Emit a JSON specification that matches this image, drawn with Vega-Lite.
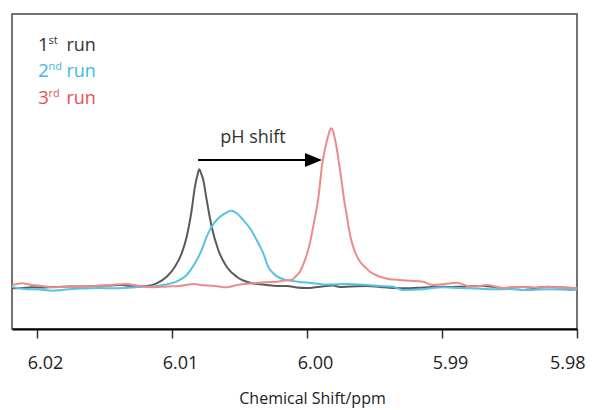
{
  "$schema": "https://vega.github.io/schema/vega-lite/v6.json",
  "width": 565,
  "height": 315,
  "padding": {"left": 12, "top": 14, "right": 0, "bottom": 2},
  "background": "white",
  "config": {
    "view": {"stroke": "#444", "strokeWidth": 1.5},
    "font": "Open Sans"
  },
  "layer": [
    {
      "data": {"values": [
        {"run":"1st","ppm":6.02185,"intensity":-0.19},{"run":"1st","ppm":6.02111,"intensity":0},{"run":"1st","ppm":6.02037,"intensity":0.44},{"run":"1st","ppm":6.01941,"intensity":0.31},{"run":"1st","ppm":6.01815,"intensity":0.81},{"run":"1st","ppm":6.01681,"intensity":0.94},{"run":"1st","ppm":6.0157,"intensity":1.25},{"run":"1st","ppm":6.01459,"intensity":1.56},{"run":"1st","ppm":6.0137,"intensity":1.88},{"run":"1st","ppm":6.01274,"intensity":0.81},{"run":"1st","ppm":6.01187,"intensity":1.25},{"run":"1st","ppm":6.01113,"intensity":2.94},{"run":"1st","ppm":6.01039,"intensity":7.06},{"run":"1st","ppm":6.00978,"intensity":13.31},{"run":"1st","ppm":6.00928,"intensity":21.69},{"run":"1st","ppm":6.00891,"intensity":32.06},{"run":"1st","ppm":6.00854,"intensity":48.75},{"run":"1st","ppm":6.0083,"intensity":63.31},{"run":"1st","ppm":6.00811,"intensity":70.63},{"run":"1st","ppm":6.00798,"intensity":74.19},{"run":"1st","ppm":6.00785,"intensity":71.88},{"run":"1st","ppm":6.00768,"intensity":67.5},{"run":"1st","ppm":6.00743,"intensity":55},{"run":"1st","ppm":6.00706,"intensity":38.31},{"run":"1st","ppm":6.00657,"intensity":23.75},{"run":"1st","ppm":6.00595,"intensity":13.31},{"run":"1st","ppm":6.00521,"intensity":7.06},{"run":"1st","ppm":6.00422,"intensity":3.31},{"run":"1st","ppm":6.00298,"intensity":1.88},{"run":"1st","ppm":6.00222,"intensity":1.25},{"run":"1st","ppm":6.00148,"intensity":1.25},{"run":"1st","ppm":6.00074,"intensity":0.31},{"run":"1st","ppm":6.0,"intensity":0},{"run":"1st","ppm":5.99926,"intensity":0.63},{"run":"1st","ppm":5.99852,"intensity":1.25},{"run":"1st","ppm":5.99807,"intensity":1.56},{"run":"1st","ppm":5.99756,"intensity":0.63},{"run":"1st","ppm":5.99681,"intensity":0.94},{"run":"1st","ppm":5.99556,"intensity":1.25},{"run":"1st","ppm":5.99459,"intensity":0.63},{"run":"1st","ppm":5.99363,"intensity":0},{"run":"1st","ppm":5.99237,"intensity":-0.19},{"run":"1st","ppm":5.99141,"intensity":0.31},{"run":"1st","ppm":5.99037,"intensity":0.81},{"run":"1st","ppm":5.98941,"intensity":0.63},{"run":"1st","ppm":5.98867,"intensity":0.81},{"run":"1st","ppm":5.98696,"intensity":1.25},{"run":"1st","ppm":5.98607,"intensity":0.63},{"run":"1st","ppm":5.98548,"intensity":0},{"run":"1st","ppm":5.984,"intensity":0.63},{"run":"1st","ppm":5.98311,"intensity":0},{"run":"1st","ppm":5.98222,"intensity":0.81},{"run":"1st","ppm":5.98126,"intensity":0.31},{"run":"1st","ppm":5.9803,"intensity":0},{"run":"1st","ppm":5.98,"intensity":0},
        {"run":"2nd","ppm":6.02185,"intensity":0.63},{"run":"2nd","ppm":6.02089,"intensity":-0.63},{"run":"2nd","ppm":6.01978,"intensity":-0.94},{"run":"2nd","ppm":6.01889,"intensity":-1.69},{"run":"2nd","ppm":6.01815,"intensity":-1.25},{"run":"2nd","ppm":6.01741,"intensity":-0.63},{"run":"2nd","ppm":6.01644,"intensity":-0.31},{"run":"2nd","ppm":6.01541,"intensity":0},{"run":"2nd","ppm":6.01444,"intensity":-0.19},{"run":"2nd","ppm":6.01348,"intensity":0},{"run":"2nd","ppm":6.01252,"intensity":0.63},{"run":"2nd","ppm":6.01163,"intensity":0.81},{"run":"2nd","ppm":6.01064,"intensity":1.88},{"run":"2nd","ppm":6.00967,"intensity":3.94},{"run":"2nd","ppm":6.00891,"intensity":8.13},{"run":"2nd","ppm":6.0083,"intensity":15.44},{"run":"2nd","ppm":6.0078,"intensity":23.75},{"run":"2nd","ppm":6.00743,"intensity":32.06},{"run":"2nd","ppm":6.00706,"intensity":38.31},{"run":"2nd","ppm":6.00657,"intensity":43.56},{"run":"2nd","ppm":6.00607,"intensity":46.69},{"run":"2nd","ppm":6.00558,"intensity":48.31},{"run":"2nd","ppm":6.00521,"intensity":46.69},{"run":"2nd","ppm":6.00472,"intensity":42.5},{"run":"2nd","ppm":6.00422,"intensity":37.31},{"run":"2nd","ppm":6.00373,"intensity":30},{"run":"2nd","ppm":6.00324,"intensity":21.69},{"run":"2nd","ppm":6.00287,"intensity":13.31},{"run":"2nd","ppm":6.00252,"intensity":9.38},{"run":"2nd","ppm":6.002,"intensity":6.25},{"run":"2nd","ppm":6.00148,"intensity":5},{"run":"2nd","ppm":6.00052,"intensity":3.75},{"run":"2nd","ppm":6.0,"intensity":3.44},{"run":"2nd","ppm":5.99904,"intensity":2.5},{"run":"2nd","ppm":5.99852,"intensity":2.19},{"run":"2nd","ppm":5.99704,"intensity":2.5},{"run":"2nd","ppm":5.99556,"intensity":1.88},{"run":"2nd","ppm":5.99459,"intensity":1.25},{"run":"2nd","ppm":5.99363,"intensity":0.81},{"run":"2nd","ppm":5.99289,"intensity":-1.25},{"run":"2nd","ppm":5.99141,"intensity":-0.81},{"run":"2nd","ppm":5.98993,"intensity":0.44},{"run":"2nd","ppm":5.98867,"intensity":0},{"run":"2nd","ppm":5.98793,"intensity":-0.19},{"run":"2nd","ppm":5.98593,"intensity":-0.81},{"run":"2nd","ppm":5.98496,"intensity":-0.63},{"run":"2nd","ppm":5.984,"intensity":-1.25},{"run":"2nd","ppm":5.98222,"intensity":-0.81},{"run":"2nd","ppm":5.98126,"intensity":-0.94},{"run":"2nd","ppm":5.9803,"intensity":-1.25},{"run":"2nd","ppm":5.98,"intensity":-0.94},
        {"run":"3rd","ppm":6.02185,"intensity":1.88},{"run":"3rd","ppm":6.02111,"intensity":2.94},{"run":"3rd","ppm":6.02037,"intensity":1.88},{"run":"3rd","ppm":6.01963,"intensity":1.25},{"run":"3rd","ppm":6.01889,"intensity":0.44},{"run":"3rd","ppm":6.01793,"intensity":0.63},{"run":"3rd","ppm":6.01689,"intensity":0.81},{"run":"3rd","ppm":6.0157,"intensity":1.25},{"run":"3rd","ppm":6.01444,"intensity":1.88},{"run":"3rd","ppm":6.01348,"intensity":2.5},{"run":"3rd","ppm":6.01244,"intensity":1.25},{"run":"3rd","ppm":6.01126,"intensity":0.44},{"run":"3rd","ppm":6.01037,"intensity":0.94},{"run":"3rd","ppm":6.00948,"intensity":1.25},{"run":"3rd","ppm":6.0083,"intensity":2.5},{"run":"3rd","ppm":6.00793,"intensity":1.88},{"run":"3rd","ppm":6.00696,"intensity":1.44},{"run":"3rd","ppm":6.00593,"intensity":0.44},{"run":"3rd","ppm":6.00533,"intensity":1.56},{"run":"3rd","ppm":6.00474,"intensity":2.5},{"run":"3rd","ppm":6.00422,"intensity":2.81},{"run":"3rd","ppm":6.00348,"intensity":3.31},{"run":"3rd","ppm":6.00274,"intensity":3.75},{"run":"3rd","ppm":6.00222,"intensity":3.94},{"run":"3rd","ppm":6.00163,"intensity":4.69},{"run":"3rd","ppm":6.00113,"intensity":5},{"run":"3rd","ppm":6.00081,"intensity":7.5},{"run":"3rd","ppm":6.00052,"intensity":10.19},{"run":"3rd","ppm":6.00026,"intensity":15},{"run":"3rd","ppm":6.00002,"intensity":20.63},{"run":"3rd","ppm":5.99978,"intensity":28.13},{"run":"3rd","ppm":5.99956,"intensity":37.5},{"run":"3rd","ppm":5.99933,"intensity":47.5},{"run":"3rd","ppm":5.99916,"intensity":56.25},{"run":"3rd","ppm":5.99904,"intensity":65},{"run":"3rd","ppm":5.99891,"intensity":75},{"run":"3rd","ppm":5.99874,"intensity":83.75},{"run":"3rd","ppm":5.99854,"intensity":91.44},{"run":"3rd","ppm":5.99837,"intensity":96.88},{"run":"3rd","ppm":5.99822,"intensity":99.81},{"run":"3rd","ppm":5.99807,"intensity":98.13},{"run":"3rd","ppm":5.99793,"intensity":93.13},{"run":"3rd","ppm":5.9978,"intensity":87.5},{"run":"3rd","ppm":5.99763,"intensity":78.13},{"run":"3rd","ppm":5.99743,"intensity":66.44},{"run":"3rd","ppm":5.99726,"intensity":55.63},{"run":"3rd","ppm":5.99706,"intensity":45.63},{"run":"3rd","ppm":5.99689,"intensity":36.88},{"run":"3rd","ppm":5.99669,"intensity":28.94},{"run":"3rd","ppm":5.99644,"intensity":22.5},{"run":"3rd","ppm":5.99607,"intensity":16.44},{"run":"3rd","ppm":5.9957,"intensity":13.13},{"run":"3rd","ppm":5.99533,"intensity":10.19},{"run":"3rd","ppm":5.99496,"intensity":8.44},{"run":"3rd","ppm":5.99459,"intensity":7.06},{"run":"3rd","ppm":5.99385,"intensity":5.44},{"run":"3rd","ppm":5.99311,"intensity":5},{"run":"3rd","ppm":5.99237,"intensity":4.56},{"run":"3rd","ppm":5.99141,"intensity":3.94},{"run":"3rd","ppm":5.99067,"intensity":1.88},{"run":"3rd","ppm":5.98978,"intensity":2.5},{"run":"3rd","ppm":5.98889,"intensity":3.31},{"run":"3rd","ppm":5.98793,"intensity":0.81},{"run":"3rd","ppm":5.98719,"intensity":1.25},{"run":"3rd","ppm":5.98667,"intensity":1.88},{"run":"3rd","ppm":5.98548,"intensity":0},{"run":"3rd","ppm":5.98474,"intensity":0.63},{"run":"3rd","ppm":5.984,"intensity":0.63},{"run":"3rd","ppm":5.98311,"intensity":0.31},{"run":"3rd","ppm":5.98222,"intensity":0.63},{"run":"3rd","ppm":5.98126,"intensity":0.31},{"run":"3rd","ppm":5.9803,"intensity":0},{"run":"3rd","ppm":5.98,"intensity":0}
      ]},
      "mark": {"type": "line", "strokeWidth": 2, "clip": true, "interpolate": "monotone"},
      "encoding": {
        "x": {
          "field": "ppm", "type": "quantitative",
          "scale": {"domain": [6.02185, 5.98], "nice": false, "zero": false},
          "axis": {
            "values": [6.02, 6.01, 6.0, 5.99, 5.98],
            "format": ".2f",
            "grid": false,
            "domainColor": "#000", "domainWidth": 2,
            "tickColor": "#333", "tickWidth": 1.5, "tickSize": 9,
            "labelFont": "Open Sans", "labelFontSize": 18, "labelColor": "#222",
            "labelPadding": 16, "labelOffset": 8, "labelOverlap": false,
            "title": "Chemical Shift/ppm",
            "titleFont": "Open Sans", "titleFontSize": 16, "titleFontWeight": "normal",
            "titleColor": "#222", "titlePadding": 18, "titleX": 300, "titleAlign": "center"
          }
        },
        "y": {
          "field": "intensity", "type": "quantitative",
          "scale": {"domain": [-25.63, 171.25], "nice": false, "zero": false},
          "axis": null
        },
        "color": {
          "field": "run", "type": "nominal",
          "scale": {"domain": ["1st", "2nd", "3rd"], "range": ["#5a5a5a", "#55c3e8", "#f08a8a"]},
          "legend": null
        }
      }
    },
    {
      "data": {"values": [{"from": 6.00807, "to": 5.99905, "level": 80}]},
      "mark": {"type": "rule", "strokeWidth": 2, "color": "#000"},
      "encoding": {
        "x": {"field": "from", "type": "quantitative"},
        "x2": {"field": "to"},
        "y": {"field": "level", "type": "quantitative"}
      }
    },
    {
      "data": {"values": [{"tip": 5.99952, "level": 80}]},
      "mark": {"type": "point", "filled": true, "color": "#000", "opacity": 1, "size": 289, "shape": "M-1,-0.82L1,0L-1,0.82Z"},
      "encoding": {
        "x": {"field": "tip", "type": "quantitative"},
        "y": {"field": "level", "type": "quantitative"}
      }
    },
    {
      "data": {"values": [{"label": "pH shift", "ppm": 6.004, "level": 90.6}]},
      "mark": {"type": "text", "font": "Open Sans", "fontSize": 18, "color": "#333", "align": "center", "baseline": "alphabetic"},
      "encoding": {
        "x": {"field": "ppm", "type": "quantitative"},
        "y": {"field": "level", "type": "quantitative"},
        "text": {"field": "label"}
      }
    },
    {
      "data": {"values": [
        {"num": "1", "sup": "st", "word": "run", "ppm": 6.01993, "level": 148.3, "run": "1st"},
        {"num": "2", "sup": "nd", "word": "run", "ppm": 6.01993, "level": 131.9, "run": "2nd"},
        {"num": "3", "sup": "rd", "word": "run", "ppm": 6.01993, "level": 115.0, "run": "3rd"}
      ]},
      "encoding": {
        "x": {"field": "ppm", "type": "quantitative"},
        "y": {"field": "level", "type": "quantitative"},
        "fill": {"field": "run", "type": "nominal", "scale": {"domain": ["1st", "2nd", "3rd"], "range": ["#333333", "#3cb9e6", "#e65050"]}, "legend": null}
      },
      "layer": [
        {
          "mark": {"type": "text", "font": "Open Sans", "fontSize": 19, "align": "left", "baseline": "alphabetic"},
          "encoding": {"text": {"field": "num"}}
        },
        {
          "mark": {"type": "text", "font": "Open Sans", "fontSize": 11, "align": "left", "baseline": "alphabetic", "dx": 10.5, "dy": -7},
          "encoding": {"text": {"field": "sup"}}
        },
        {
          "mark": {"type": "text", "font": "Open Sans", "fontSize": 18, "align": "left", "baseline": "alphabetic", "dx": 28.5},
          "encoding": {"text": {"field": "word"}}
        }
      ]
    }
  ]
}
